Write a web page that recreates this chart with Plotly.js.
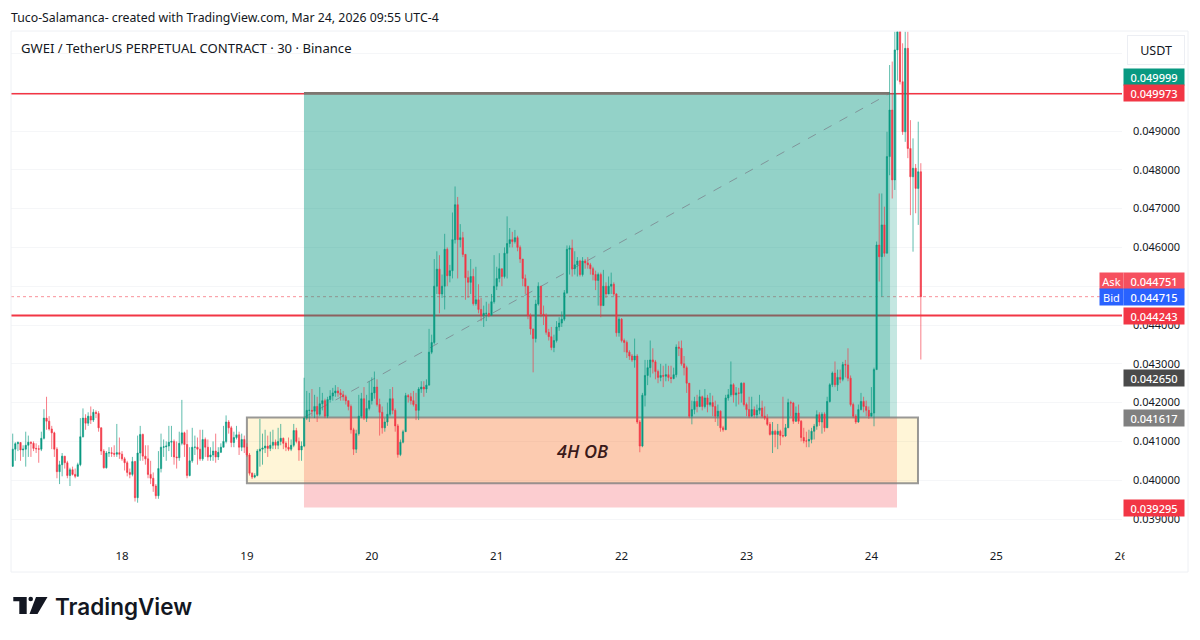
<!DOCTYPE html>
<html><head><meta charset="utf-8">
<script src="https://cdn.plot.ly/plotly-3.0.1.min.js"></script>
<style>html,body{margin:0;padding:0;background:#fff}#c{width:1200px;height:640px}</style></head>
<body><div id="c"></div>
<script>
const priceUnit = 0.00001;
const firstBarDay = 17.125;
const barDays = 1 / 48;
const firstOpen = 4036;
const closes = [
4080,4094,4097,4078,4080,4090,4098,4095,4082,4081,
4080,4108,4160,4152,4132,4122,4080,4022,4040,4062,
4045,4012,4027,4015,4010,4040,4112,4160,4147,4165,
4155,4175,4172,4135,4075,4032,4070,4071,4069,4067,
4071,4067,4055,4045,4020,4015,4048,3955,4070,4118,
4062,4055,4015,4005,3985,3960,4030,4085,4086,4088,
4098,4100,4060,4058,4095,4122,4092,4012,4050,4085,
4085,4080,4055,4105,4085,4060,4065,4075,4060,4072,
4085,4100,4150,4135,4097,4110,4117,4085,4105,4085,
4065,4018,4008,4012,4075,4080,4083,4088,4082,4090,
4098,4090,4100,4108,4095,4085,4080,4090,4128,4100,
4078,4088,4160,4180,4180,4178,4190,4170,4197,4205,
4165,4208,4217,4225,4230,4225,4220,4215,4205,4190,
4130,4080,4120,4165,4210,4160,4185,4205,4225,4240,
4195,4175,4135,4150,4170,4210,4180,4140,4066,4098,
4125,4218,4215,4205,4195,4180,4235,4240,4235,4245,
4330,4355,4500,4544,4480,4500,4595,4527,4540,4620,
4710,4620,4625,4582,4522,4510,4525,4455,4465,4440,
4425,4430,4430,4425,4460,4500,4520,4545,4525,4585,
4610,4620,4615,4625,4600,4570,4520,4500,4424,4390,
4365,4454,4500,4428,4425,4381,4370,4342,4360,4395,
4405,4415,4483,4595,4598,4545,4555,4565,4530,4565,
4560,4555,4545,4530,4515,4530,4450,4500,4480,4500,
4505,4480,4380,4415,4360,4355,4330,4320,4310,4320,
4150,4088,4219,4270,4290,4310,4305,4280,4265,4270,
4268,4272,4265,4262,4272,4343,4340,4300,4290,4250,
4165,4182,4203,4190,4215,4190,4212,4195,4200,4190,
4165,4178,4135,4130,4212,4220,4246,4220,4225,4224,
4250,4195,4182,4165,4182,4168,4180,4186,4165,4160,
4144,4118,4126,4118,4126,4115,4114,4135,4200,4199,
4152,4173,4152,4110,4101,4101,4105,4126,4139,4169,
4150,4170,4135,4203,4246,4276,4246,4265,4260,4298,
4297,4263,4195,4165,4150,4182,4203,4190,4180,4165,
4173,4285,4606,4576,4658,4585,4834,4954,4774,5109,
5156,5027,4898,5113,4855,4782,4804,4752,4795,4473];
const highs = [
4120,4098,4100,4094,4090,4125,4115,4100,4100,4095,
4090,4125,4183,4215,4165,4140,4125,4085,4050,4070,
4062,4050,4032,4035,4030,4045,4160,4185,4170,4175,
4190,4183,4180,4178,4136,4080,4075,4085,4085,4090,
4145,4110,4075,4060,4050,4030,4060,4050,4115,4140,
4120,4090,4090,4050,4020,3990,4075,4120,4105,4100,
4140,4140,4105,4100,4125,4207,4125,4130,4085,4135,
4115,4110,4130,4130,4110,4105,4085,4100,4120,4085,
4095,4140,4167,4155,4140,4125,4140,4125,4120,4115,
4095,4070,4020,4018,4080,4158,4120,4130,4115,4125,
4130,4105,4135,4145,4110,4100,4110,4105,4145,4135,
4110,4100,4264,4230,4225,4235,4220,4215,4240,4225,
4210,4215,4232,4238,4245,4240,4235,4230,4220,4205,
4195,4135,4130,4220,4225,4240,4220,4255,4265,4280,
4260,4210,4190,4160,4200,4235,4240,4185,4145,4105,
4130,4225,4222,4225,4230,4225,4240,4255,4255,4260,
4390,4375,4570,4590,4580,4530,4635,4600,4555,4690,
4757,4730,4660,4640,4555,4540,4570,4545,4550,4505,
4470,4450,4460,4455,4480,4580,4550,4585,4545,4600,
4680,4650,4640,4645,4630,4605,4570,4530,4500,4430,
4390,4465,4510,4500,4450,4430,4390,4395,4375,4410,
4420,4435,4490,4605,4605,4620,4590,4575,4568,4575,
4570,4575,4560,4550,4540,4535,4535,4542,4510,4525,
4535,4510,4482,4420,4418,4365,4360,4335,4325,4365,
4325,4155,4225,4310,4310,4360,4340,4310,4285,4300,
4295,4300,4295,4295,4290,4350,4358,4360,4320,4295,
4240,4205,4215,4220,4233,4218,4235,4220,4225,4218,
4205,4195,4180,4140,4220,4235,4306,4250,4240,4238,
4252,4252,4200,4215,4215,4190,4195,4220,4205,4190,
4170,4150,4150,4130,4145,4130,4215,4145,4210,4205,
4202,4190,4195,4155,4135,4125,4130,4135,4145,4180,
4175,4175,4175,4215,4250,4280,4306,4285,4285,4305,
4310,4340,4270,4200,4170,4195,4225,4215,4205,4190,
4240,4290,4615,4739,4739,4705,4898,5070,5079,5156,
5190,5170,5126,5156,5156,4928,4881,4815,4924,4817];
const lows = [
4034,4050,4075,4050,4060,4035,4060,4060,4075,4070,
4045,4075,4105,4130,4128,4080,4060,4005,3990,4010,
4030,4005,3985,4012,4005,4010,4036,4110,4130,4140,
4145,4150,4160,4125,4065,4030,4030,4060,4060,4060,
4060,4055,4050,4025,4010,4005,4010,3945,3942,4050,
4050,4040,4005,3990,3970,3952,3952,4020,4060,4050,
4075,4060,4040,4030,4050,4090,4060,4005,4010,4045,
4065,4040,4050,4050,4060,4050,4050,4050,4045,4052,
4070,4085,4095,4120,4085,4085,4105,4065,4075,4070,
4060,4012,4003,4005,4010,4035,4040,4070,4060,4075,
4080,4080,4080,4090,4080,4075,4075,4075,4085,4095,
4050,4050,4085,4155,4150,4165,4160,4150,4165,4180,
4160,4160,4200,4205,4215,4215,4205,4205,4195,4180,
4120,4065,4070,4115,4160,4155,4150,4180,4195,4210,
4190,4115,4120,4125,4140,4165,4170,4125,4058,4062,
4095,4125,4200,4195,4190,4155,4155,4225,4215,4225,
4245,4325,4350,4480,4430,4470,4440,4500,4510,4520,
4610,4520,4600,4575,4465,4470,4480,4450,4450,4430,
4410,4395,4410,4420,4425,4455,4490,4510,4500,4520,
4520,4600,4600,4610,4590,4560,4500,4480,4415,4375,
4278,4355,4450,4420,4400,4375,4360,4335,4330,4355,
4385,4395,4410,4480,4530,4525,4530,4525,4525,4525,
4545,4545,4530,4515,4490,4450,4420,4470,4470,4480,
4480,4475,4370,4370,4355,4330,4315,4310,4305,4290,
4145,4072,4085,4190,4245,4265,4275,4260,4250,4255,
4240,4255,4255,4250,4260,4265,4320,4295,4270,4225,
4160,4144,4170,4175,4188,4180,4185,4175,4190,4165,
4150,4140,4125,4125,4130,4205,4215,4200,4190,4195,
4200,4190,4165,4160,4170,4160,4160,4170,4160,4155,
4140,4115,4070,4085,4080,4090,4110,4112,4135,4165,
4145,4150,4145,4100,4095,4085,4085,4095,4105,4130,
4140,4120,4125,4135,4200,4240,4240,4230,4250,4255,
4265,4255,4190,4160,4145,4148,4180,4175,4165,4158,
4165,4139,4285,4512,4473,4576,4585,4786,4726,4748,
5030,5020,4890,4872,4830,4683,4589,4688,4658,4311];

const dayTicks = [18,19,20,21,22,23,24,25,26];
const priceTicks = [0.039,0.040,0.041,0.042,0.043,0.044,0.045,0.046,0.047,0.048,0.049,0.050,0.051];
// Ticks fully hidden behind a price label or the USDT button in the reference
const hiddenPriceTicks = [0.045,0.050,0.051];

// Drawing levels on the chart
const targetPrice = 0.049973, stopPrice = 0.039295, entryPrice = 0.041617;
const levelPrice = 0.044243, lastPrice = 0.04473;
const boxBottomPrice = 0.03992, obLabelPrice = 0.04075;
const startDay = 19.457, filledEndDay = 24.149, toolEndDay = 24.205;
const boxStartDay = 19.0, boxEndDay = 24.373, obLabelDay = 21.68;

const labelTexts = ["0.049999","0.049973","0.044751","0.044715","0.044243","0.042650","0.041617","0.039295"];
const labelY = [77,93,281,297,316,378,418,508];
const labelColors = ["#089981","#F23645","#F6505F","#2962FF","#F23645","#4A4A4A","#808080","#F23645"];

const W=1200,H=640,L=11,R=1122,T=31,B=545;
const px=x=>(x-L)/(R-L), py=y=>(B-y)/(B-T);
const opens = closes.map((c,i)=> (i?closes[i-1]:firstOpen)*priceUnit);
const toPrice = a => a.map(v=>v*priceUnit);
const times = closes.map((_,i)=>firstBarDay+i*barDays);
const fontUI = '"Noto Sans", "Open Sans", sans-serif';

const trace = {type:'candlestick',x:times,open:opens,high:toPrice(highs),low:toPrice(lows),close:toPrice(closes),
  increasing:{line:{color:'#089981',width:0.65},fillcolor:'#089981'},
  decreasing:{line:{color:'#F23645',width:0.65},fillcolor:'#F23645'},
  whiskerwidth:0,hoverinfo:'skip',showlegend:false};

function rectD(x0,x1,y0,y1,fill,line){return {type:'rect',layer:'between',xref:'x',yref:'y',x0,x1,y0,y1,fillcolor:fill,line:line||{width:0}};}
function hline(y,color,width,dash){return {type:'line',layer:'between',xref:'paper',yref:'y',x0:0,x1:1,y0:y,y1:y,line:{color,width,dash:dash||'solid'}};}
function pxLine(x0,y0,x1,y1,c){return {type:'line',layer:'above',xref:'paper',yref:'paper',x0:px(x0),x1:px(x1),y0:py(y0),y1:py(y1),line:{color:c||'#eef0f4',width:1}};}
function pxPath(pts,c){return {type:'path',layer:'above',xref:'paper',yref:'paper',line:{width:0},fillcolor:c,
  path:'M'+pts.map(p=>px(p[0])+','+py(p[1])).join('L')+'Z'};}

const shapes = [
  hline(targetPrice,'#F23645',2.4),
  hline(levelPrice,'#F23645',2),
  hline(lastPrice,'rgba(242,54,69,0.55)',1,'dot'),
  rectD(startDay,filledEndDay,entryPrice,targetPrice,'rgba(8,153,129,0.44)'),
  rectD(filledEndDay,toolEndDay,entryPrice,targetPrice,'rgba(8,153,129,0.24)'),
  rectD(startDay,toolEndDay,stopPrice,entryPrice,'rgba(242,54,69,0.25)'),
  {type:'line',layer:'between',xref:'x',yref:'y',x0:startDay,x1:filledEndDay,y0:entryPrice,y1:targetPrice,line:{color:'rgba(120,123,134,0.7)',width:1,dash:'dash'}},
  {type:'line',layer:'between',xref:'x',yref:'y',x0:startDay,x1:filledEndDay,y0:targetPrice,y1:targetPrice,line:{color:'#7d7670',width:2.5}},
  rectD(boxStartDay,boxEndDay,boxBottomPrice,entryPrice,'rgba(255,195,20,0.17)',{color:'rgba(128,128,128,0.8)',width:2}),
  pxLine(11,31,1188,31), pxLine(11,31,11,572), pxLine(1188,31,1188,572), pxLine(11,572,1188,572),
  // TradingView logo mark
  pxPath([[13.3,597],[26.7,597],[26.7,614],[19.3,614],[19.3,601.3],[13.3,601.3]],'#131722'),
  pxPath([[36,597],[47.5,597],[37.5,614],[29.5,614]],'#131722'),
  {type:'circle',layer:'above',xref:'paper',yref:'paper',x0:px(28.4),x1:px(33),y0:py(601.3),y1:py(596.7),fillcolor:'#131722',line:{width:0}}
];

const annotations = [];
function textPx(text,x,y,size,color,opts){annotations.push(Object.assign({text,xref:'paper',yref:'paper',x:px(x),y:py(y),xanchor:'left',yanchor:'middle',showarrow:false,borderpad:0,
  font:{family:fontUI,size,color}},opts||{}));}
textPx('Tuco-Salamanca- created with TradingView.com, Mar 24, 2026 09:55 UTC-4',10,17,12.3,'#131722');
textPx('GWEI / TetherUS PERPETUAL CONTRACT · 30 · Binance',20,48,13.1,'#131722');
textPx('TradingView',54,606,22.5,'#131722',{font:{family:'"Inter", "Noto Sans", sans-serif',size:22.5,color:'#131722',weight:600}});
// white patch that clips the last day label as in the reference
textPx(' ',1124,557,12,'#fff',{bgcolor:'#fff',width:8,height:16});
annotations.push({text:'USDT',xref:'paper',yref:'paper',x:px(1156),y:py(50),xanchor:'center',yanchor:'middle',showarrow:false,
  width:54,height:26,bgcolor:'#fff',bordercolor:'#eceef3',borderwidth:1,font:{family:fontUI,size:12.5,color:'#131722'}});
labelTexts.forEach((t,i)=>annotations.push({text:t,xref:'paper',yref:'paper',x:px(1154),y:py(labelY[i]),xanchor:'center',yanchor:'middle',showarrow:false,
  width:60,height:16,borderpad:0,bgcolor:labelColors[i],font:{family:fontUI,size:11,color:'#fff',weight:500}}));
["Ask","Bid"].forEach((t,i)=>annotations.push({text:t,xref:'paper',yref:'paper',x:px(1111.5),y:py(281+16*i),xanchor:'center',yanchor:'middle',showarrow:false,
  width:23,height:16,borderpad:0,bgcolor:labelColors[2+i],font:{family:fontUI,size:11,color:'#fff'}}));
annotations.push({text:'4H OB',xref:'x',yref:'y',x:obLabelDay,y:obLabelPrice,xanchor:'center',yanchor:'middle',showarrow:false,
  font:{family:'"Open Sans", sans-serif',size:18,color:'#3a1a1a',style:'italic',weight:600}});

const layout = {width:W,height:H,margin:{l:L,r:W-R,t:T,b:H-B,pad:0},paper_bgcolor:'#fff',plot_bgcolor:'#fff',showlegend:false,
  font:{family:fontUI,color:'#131722',size:11},
  xaxis:{type:'linear',range:[18-111/124.9,18+(R-122)/124.9],tickvals:dayTicks,ticktext:dayTicks.map(String),showgrid:false,zeroline:false,showline:false,
    ticks:'',ticklabelstandoff:2,tickfont:{family:fontUI,size:11.5,color:'#131722'},rangeslider:{visible:false},fixedrange:true},
  yaxis:{type:'linear',side:'right',range:[0.049-(B-131)/38800,0.049+(131-T)/38800],tickvals:priceTicks,
    ticktext:priceTicks.map(v=>hiddenPriceTicks.includes(v)?'':v.toFixed(6)),
    showgrid:true,gridcolor:'#f5f6f8',gridwidth:1,zeroline:false,showline:false,ticks:'',ticklabelstandoff:10,
    tickfont:{family:fontUI,size:11,color:'#131722'},fixedrange:true},
  shapes,annotations};
Plotly.newPlot('c',[trace],layout,{staticPlot:true,displayModeBar:false});
</script></body></html>
